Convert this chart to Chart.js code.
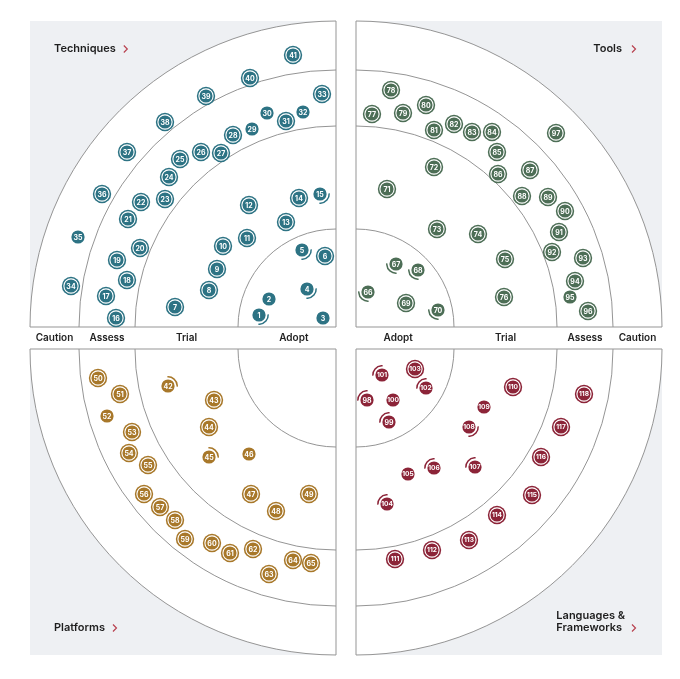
<!DOCTYPE html>
<html>
<head>
<meta charset="utf-8">
<script src="https://cdn.jsdelivr.net/npm/chart.js@4.4.1/dist/chart.umd.min.js"></script>
<style>
  html, body { margin: 0; padding: 0; background: #ffffff; }
  #radar { display: block; }
</style>
</head>
<body>
<canvas id="radar" width="680" height="679"></canvas>
<script>
// ring boundaries measured from each quadrant's corner
const ringRadii = [98, 201, 257, 306];
const ringNames = ['Adopt', 'Trial', 'Assess', 'Caution'];

const quadrantNames = ['Techniques', 'Tools', 'Platforms', 'Languages & Frameworks'];
const quadrantColors = ['#2d7384', '#4d6e56', '#a8782a', '#8c2438'];

// blips: [number, distance across from corner, distance up/down from corner, status]
// status: new = double ring, none = plain, in / out = moved
const techniques = [
  [1, 77, 12, 'in'], [2, 67, 28, 'none'], [3, 13, 9, 'none'], [4, 29, 38, 'in'],
  [5, 34, 77, 'in'], [6, 11, 71, 'new'], [7, 161, 20, 'new'], [8, 127, 37, 'new'],
  [9, 119, 58, 'new'], [10, 113, 81, 'new'], [11, 89, 89, 'new'], [12, 87, 122, 'new'],
  [13, 50, 105, 'new'], [14, 37, 129, 'new'], [15, 16, 133, 'in'], [16, 220, 9, 'new'],
  [17, 230, 31, 'new'], [18, 209, 47, 'new'], [19, 219, 67, 'new'], [20, 196, 79, 'new'],
  [21, 208, 108, 'new'], [22, 195, 125, 'new'], [23, 171, 128, 'new'], [24, 167, 150, 'new'],
  [25, 156, 168, 'new'], [26, 135, 175, 'new'], [27, 115, 174, 'new'], [28, 103, 192, 'new'],
  [29, 84, 198, 'none'], [30, 69, 214, 'none'], [31, 50, 206, 'new'], [32, 33, 215, 'none'],
  [33, 14, 233, 'new'], [34, 265, 41, 'new'], [35, 258, 90, 'none'], [36, 234, 133, 'new'],
  [37, 209, 175, 'new'], [38, 171, 205, 'new'], [39, 130, 231, 'new'], [40, 86, 249, 'new'],
  [41, 43, 272, 'new']
];

const tools = [
  [66, 12, 35, 'in'], [67, 40, 63, 'in'], [68, 62, 57, 'in'], [69, 50, 24, 'new'],
  [70, 82, 17, 'in'], [71, 31, 138, 'new'], [72, 78, 160, 'new'], [73, 81, 98, 'new'],
  [74, 122, 93, 'new'], [75, 149, 68, 'new'], [76, 148, 30, 'new'], [77, 16, 213, 'new'],
  [78, 35, 237, 'new'], [79, 47, 214, 'new'], [80, 70, 222, 'new'], [81, 78, 197, 'new'],
  [82, 98, 203, 'new'], [83, 116, 195, 'new'], [84, 136, 195, 'new'], [85, 141, 175, 'new'],
  [86, 142, 153, 'new'], [87, 174, 157, 'new'], [88, 166, 131, 'new'], [89, 192, 130, 'new'],
  [90, 209, 116, 'new'], [91, 203, 95, 'new'], [92, 196, 75, 'new'], [93, 227, 69, 'new'],
  [94, 219, 46, 'new'], [95, 214, 30, 'none'], [96, 232, 16, 'new'], [97, 200, 194, 'new']
];

const platforms = [
  [42, 168, 37, 'in'], [43, 122, 51, 'new'], [44, 127, 78, 'new'], [45, 127, 108, 'in'],
  [46, 87, 105, 'none'], [47, 85, 145, 'new'], [48, 60, 162, 'new'], [49, 27, 145, 'new'],
  [50, 238, 29, 'new'], [51, 216, 45, 'new'], [52, 229, 67, 'none'], [53, 204, 83, 'new'],
  [54, 207, 104, 'new'], [55, 188, 116, 'new'], [56, 192, 145, 'new'], [57, 176, 158, 'new'],
  [58, 161, 171, 'new'], [59, 151, 190, 'new'], [60, 124, 194, 'new'], [61, 106, 204, 'new'],
  [62, 83, 200, 'new'], [63, 67, 225, 'new'], [64, 43, 211, 'new'], [65, 25, 214, 'new']
];

const languages = [
  [98, 11, 51, 'in'], [99, 33, 73, 'in'], [100, 37, 51, 'none'], [101, 26, 26, 'in'],
  [102, 70, 39, 'in'], [103, 59, 20, 'new'], [104, 31, 155, 'in'], [105, 52, 125, 'none'],
  [106, 78, 119, 'in'], [107, 119, 118, 'in'], [108, 113, 78, 'out'], [109, 128, 58, 'none'],
  [110, 157, 38, 'new'], [111, 39, 210, 'new'], [112, 76, 201, 'new'], [113, 113, 191, 'new'],
  [114, 141, 166, 'new'], [115, 176, 146, 'new'], [116, 185, 108, 'new'], [117, 205, 78, 'new'],
  [118, 228, 45, 'new']
];

const quadrantBlips = [techniques, tools, platforms, languages];

// quadrant directions: TL, TR, BL, BR (data y points up)
const quadrantSigns = [[-1, 1], [1, 1], [-1, -1], [1, -1]];
const gapX = 10;
const gapY = 11;

const datasets = quadrantBlips.map((blips, q) => {
  const [sx, sy] = quadrantSigns[q];
  return {
    label: quadrantNames[q],
    data: blips.map((b) => ({
      x: sx * (gapX + b[1]),
      y: sy * (gapY + b[2]),
      id: b[0],
      status: b[3],
    })),
    backgroundColor: quadrantColors[q],
    borderWidth: 0,
    pointRadius: (ctx) => (ctx.raw && ctx.raw.status === 'new' ? 9.2 : 6.6),
    pointHoverRadius: (ctx) => (ctx.raw && ctx.raw.status === 'new' ? 9.2 : 6.6),
  };
});

const radarBackground = {
  id: 'radarBackground',
  beforeDatasetsDraw(chart) {
    const { ctx, scales } = chart;
    const xs = scales.x;
    const ys = scales.y;
    const unit = xs.getPixelForValue(1) - xs.getPixelForValue(0);
    const outer = ringRadii[ringRadii.length - 1] * unit;

    ctx.save();
    quadrantSigns.forEach(([sx, sy], q) => {
      const cx = xs.getPixelForValue(sx * gapX);
      const cy = ys.getPixelForValue(sy * gapY);
      const dx = sx * outer;
      const dy = -sy * outer;

      // grey box
      ctx.fillStyle = '#eef0f3';
      ctx.fillRect(Math.min(cx, cx + dx), Math.min(cy, cy + dy), outer, outer);

      // canvas angles of this quarter
      const start = [Math.PI, 1.5 * Math.PI, 0.5 * Math.PI, 0][q];
      const end = start + 0.5 * Math.PI;

      ctx.fillStyle = '#ffffff';
      ctx.beginPath();
      ctx.moveTo(cx, cy);
      ctx.arc(cx, cy, outer, start, end);
      ctx.closePath();
      ctx.fill();

      ctx.strokeStyle = '#959595';
      ctx.lineWidth = 1;
      ringRadii.forEach((r) => {
        ctx.beginPath();
        ctx.arc(cx, cy, r * unit, start, end);
        ctx.stroke();
      });

      ctx.beginPath();
      ctx.moveTo(cx + dx, cy);
      ctx.lineTo(cx, cy);
      ctx.lineTo(cx, cy + dy);
      ctx.stroke();
    });

    // ring names along the horizontal gap
    ctx.fillStyle = '#222222';
    ctx.font = '600 10px Inter, "Noto Sans", sans-serif';
    ctx.textAlign = 'center';
    ctx.textBaseline = 'middle';
    const ly = ys.getPixelForValue(0);
    ringNames.forEach((name, i) => {
      const inner = i === 0 ? 0 : ringRadii[i - 1];
      const mid = i === 0 ? ringRadii[0] * 0.43 : (inner + ringRadii[i]) / 2;
      ctx.fillText(name, xs.getPixelForValue(-(gapX + mid)), ly);
      ctx.fillText(name, xs.getPixelForValue(gapX + mid), ly);
    });

    // quadrant titles with chevrons
    ctx.font = '600 11px Inter, "Noto Sans", sans-serif';
    ctx.textAlign = 'left';
    const drawChevron = (x, y) => {
      ctx.save();
      ctx.strokeStyle = '#b8414f';
      ctx.lineWidth = 1.2;
      ctx.beginPath();
      ctx.moveTo(x - 2, y - 3.5);
      ctx.lineTo(x + 1.5, y);
      ctx.lineTo(x - 2, y + 3.5);
      ctx.stroke();
      ctx.restore();
    };
    quadrantSigns.forEach(([sx, sy], q) => {
      const lines = q === 3 ? ['Languages &', 'Frameworks'] : [quadrantNames[q]];
      const baseY = ys.getPixelForValue(sy * (gapY + 278)) + (sy < 0 ? 1 : 0);
      const lastWidth = ctx.measureText(lines[lines.length - 1]).width;
      let left;
      let chevronX;
      if (sx < 0) {
        left = xs.getPixelForValue(-(gapX + 282));
        chevronX = left + lastWidth + 10;
      } else {
        chevronX = xs.getPixelForValue(gapX + 278);
        left = chevronX - 12 - lastWidth;
      }
      const lineH = 12.5;
      ctx.fillStyle = '#1e1e1e';
      lines.forEach((l, i) => {
        ctx.fillText(l, left, baseY - (lines.length - 1 - i) * lineH);
      });
      drawChevron(chevronX, baseY);
    });
    ctx.restore();
  },
};

const blipMarks = {
  id: 'blipMarks',
  afterDatasetsDraw(chart) {
    const { ctx } = chart;
    // direction of the radar centre from each quadrant, canvas angles
    const towardCentre = [0.25 * Math.PI, 0.75 * Math.PI, -0.25 * Math.PI, -0.75 * Math.PI];
    ctx.save();
    chart.data.datasets.forEach((ds, q) => {
      const meta = chart.getDatasetMeta(q);
      meta.data.forEach((pt, j) => {
        const raw = ds.data[j];
        const { x, y } = pt;
        if (raw.status === 'new') {
          ctx.strokeStyle = '#ffffff';
          ctx.lineWidth = 1.1;
          ctx.beginPath();
          ctx.arc(x, y, 7.1, 0, 2 * Math.PI);
          ctx.stroke();
        } else if (raw.status === 'in' || raw.status === 'out') {
          const mid = towardCentre[q] + (raw.status === 'out' ? Math.PI : 0);
          ctx.strokeStyle = ds.backgroundColor;
          ctx.lineWidth = 1.5;
          ctx.beginPath();
          ctx.arc(x, y, 9.2, mid - 0.85, mid + 0.85);
          ctx.stroke();
        }
        const label = String(raw.id);
        ctx.fillStyle = '#ffffff';
        ctx.font = (label.length > 2 ? '700 6.6px ' : '700 7px ') + 'Inter, "Noto Sans", sans-serif';
        ctx.textAlign = 'center';
        ctx.textBaseline = 'middle';
        ctx.fillText(label, x, y + 0.4);
      });
    });
    ctx.restore();
  },
};

new Chart(document.getElementById('radar'), {
  type: 'scatter',
  data: { datasets },
  options: {
    responsive: false,
    animation: false,
    events: [],
    layout: { padding: 0, autoPadding: false },
    plugins: {
      legend: { display: false },
      tooltip: { enabled: false },
    },
    scales: {
      x: { type: 'linear', min: -346, max: 334, display: false },
      y: { type: 'linear', min: -341, max: 338, display: false },
    },
  },
  plugins: [radarBackground, blipMarks],
});
</script>
</body>
</html>
